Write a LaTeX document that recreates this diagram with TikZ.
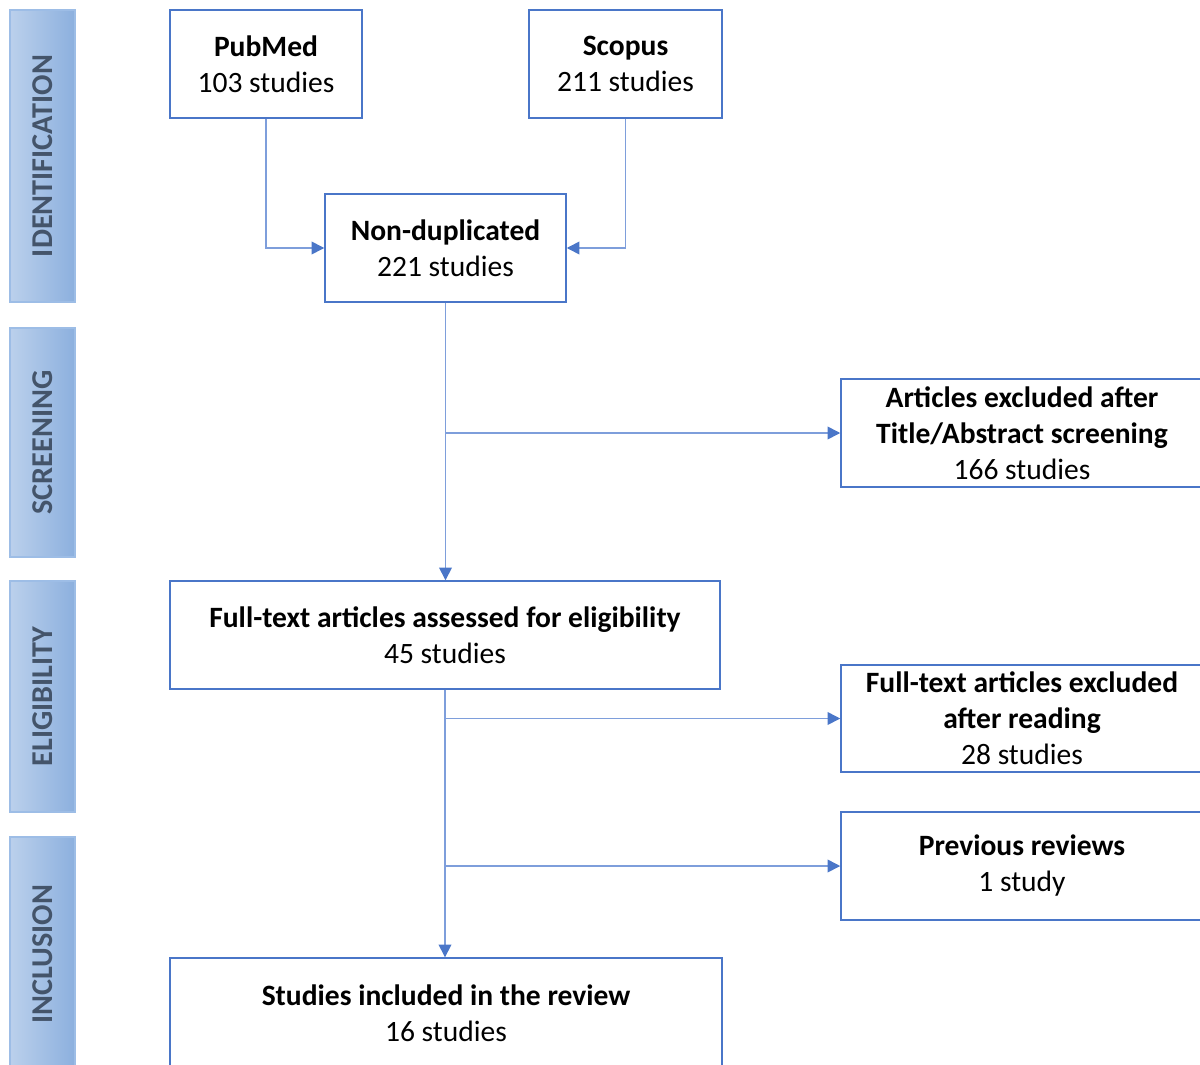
\documentclass[tikz,border=0pt]{standalone}
\usepackage{fontspec}
\setmainfont{Carlito}
\usetikzlibrary{arrows.meta}
\definecolor{boxblue}{HTML}{4A76C8}
\definecolor{linkblue}{HTML}{7E9EDB}
\definecolor{barlight}{HTML}{BBD0EC}
\definecolor{bardark}{HTML}{8CB0DE}
\definecolor{barline}{HTML}{9DBDE6}
\definecolor{bartext}{HTML}{44546A}
\tikzset{
  stagebox/.style={draw=boxblue, line width=1pt, fill=white, align=center,
    inner sep=0pt, minimum height=2.7cm,
    font=\fontsize{21}{25.6}\selectfont},
  phase/.style={draw=barline, line width=0.8pt, rotate=90,
    left color=barlight, right color=bardark, text=bartext,
    minimum height=1.625cm, inner sep=0pt,
    font=\fontsize{21.5}{24}\selectfont\bfseries},
  link/.style={draw=linkblue, line width=1.1pt,
    -{Triangle[length=9pt,width=9pt,color=boxblue]}}
}
\begin{document}
\begin{tikzpicture}[x=0.025cm,y=-0.025cm]
\useasboundingbox (0,0) rectangle (1200,1064);

% stage bars on the left
\node[phase, minimum width=7.3cm]   (bid)  at (42.5,156)   {IDENTIFICATION};
\node[phase, minimum width=5.725cm] (bscr) at (42.5,442.5) {SCREENING};
\node[phase, minimum width=5.775cm] (bel)  at (42.5,696.5) {ELIGIBILITY};
\node[phase, minimum width=5.85cm]  (binc) at (42.5,954)   {INCLUSION};

% records
\node[stagebox, minimum width=4.8cm]   (pub)  at (266,64)    {\textbf{PubMed}\\103 studies};
\node[stagebox, minimum width=4.825cm] (sco)  at (625.5,64)  {\textbf{Scopus}\\211 studies};
\node[stagebox, minimum width=6.025cm] (nd)   at (445.5,248) {\textbf{Non-duplicated}\\221 studies};
\node[stagebox, minimum width=9.05cm]  (ex1)  at (1022,433)  {\textbf{Articles excluded after}\\\textbf{Title/Abstract screening}\\166 studies};
\node[stagebox, minimum width=13.75cm] (ft)   at (445,635)   {\textbf{Full-text articles assessed for eligibility}\\45 studies};
\node[stagebox, minimum width=9.05cm, minimum height=2.675cm] (ex2) at (1022,718.5) {\textbf{Full-text articles excluded}\\\textbf{after reading}\\28 studies};
\node[stagebox, minimum width=9.05cm]  (prev) at (1022,866)  {\textbf{Previous reviews}\\1 study};
\node[stagebox, minimum width=13.8cm, minimum height=2.75cm] (inc) at (446,1013) {\textbf{Studies included in the review}\\16 studies};

% connectors
\draw[link] (pub.south) |- (nd.west);
\draw[link] (sco.south) |- (nd.east);
\draw[link] (nd.south) -- (nd.south |- ft.north);
\draw[link] (nd.south |- ex1.west) -- (ex1.west);
\draw[link] (ft.south) -- (ft.south |- inc.north);
\draw[link] (ft.south |- ex2.west) -- (ex2.west);
\draw[link] (ft.south |- prev.west) -- (prev.west);
\end{tikzpicture}
\end{document}
